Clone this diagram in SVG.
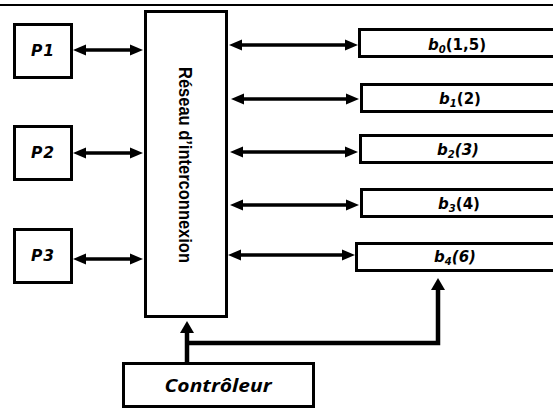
<svg xmlns="http://www.w3.org/2000/svg" width="553" height="410" viewBox="0 0 553 410">
<style>
.box{fill:#fff;stroke:#000;stroke-width:3}
.lbl{font-family:"DejaVu Sans",Verdana,sans-serif;font-weight:bold;font-style:italic;font-size:15.5px;fill:#000;text-anchor:middle}
.ctr{font-family:"Open Sans","DejaVu Sans",sans-serif;font-weight:bold;font-style:italic;font-size:18px;fill:#000;text-anchor:middle}
.bl{font-family:"DejaVu Sans",Verdana,sans-serif;font-weight:bold;font-size:15px;fill:#000;text-anchor:middle}
.it{font-style:italic}
.sub{font-size:10px;font-style:italic}
.net{font-family:"Liberation Sans Narrow","Liberation Sans",Arial,sans-serif;font-weight:bold;font-size:19px;fill:#000;text-anchor:middle}
.link{stroke:#000;stroke-width:3.5;fill:none;marker-start:url(#ah);marker-end:url(#ah)}
.ctl{stroke:#000;stroke-width:4.5;fill:none;marker-end:url(#big)}
</style>
<defs>
<marker id="ah" viewBox="0 -6 13 12" refX="3" refY="0" markerWidth="13" markerHeight="12" markerUnits="userSpaceOnUse" orient="auto-start-reverse">
<path d="M0,-5.5 L13,0 L0,5.5 z" fill="#000"/>
</marker>
<marker id="big" viewBox="0 -7.5 12 15" refX="2" refY="0" markerWidth="12" markerHeight="15" markerUnits="userSpaceOnUse" orient="auto">
<path d="M0,-7 L12,0 L0,7 z" fill="#000"/>
</marker>
</defs>
<line x1="0" y1="5" x2="553" y2="5" stroke="#000" stroke-width="2"/>
<g id="P1"><rect class="box" x="14.5" y="24.5" width="57" height="53"/><text class="lbl" x="43" y="56" letter-spacing="1">P1</text></g>
<g id="P2"><rect class="box" x="14.5" y="126.5" width="57" height="53"/><text class="lbl" x="43" y="158" letter-spacing="1">P2</text></g>
<g id="P3"><rect class="box" x="14.5" y="229.5" width="57" height="53"/><text class="lbl" x="43" y="261" letter-spacing="1">P3</text></g>
<g id="reseau"><rect class="box" x="145.5" y="11.5" width="81" height="305"/>
<text class="net" transform="translate(179,165) rotate(90)" x="0" y="0" textLength="196" lengthAdjust="spacingAndGlyphs">Réseau d’interconnexion</text></g>
<g id="b0"><rect class="box" x="359.5" y="29.5" width="200" height="27"/><text class="bl" x="457" y="50"><tspan class="it">b</tspan><tspan class="sub" dy="3">0</tspan><tspan dy="-3">(1,5)</tspan></text></g>
<g id="b1"><rect class="box" x="361.5" y="84.5" width="200" height="27"/><text class="bl" x="460" y="104"><tspan class="it">b</tspan><tspan class="sub" dy="3">1</tspan><tspan dy="-3">(2)</tspan></text></g>
<g id="b2"><rect class="box" x="360.5" y="135.5" width="200" height="27"/><text class="bl" x="458" y="155"><tspan class="it">b</tspan><tspan class="sub" dy="3">2</tspan><tspan class="it" dy="-3">(3)</tspan></text></g>
<g id="b3"><rect class="box" x="361.5" y="189.5" width="200" height="27"/><text class="bl" x="459" y="209"><tspan class="it">b</tspan><tspan class="sub" dy="3">3</tspan><tspan dy="-3">(4)</tspan></text></g>
<g id="b4"><rect class="box" x="356.5" y="243.5" width="200" height="27"/><text class="bl" x="455" y="262"><tspan class="it">b</tspan><tspan class="sub" dy="3">4</tspan><tspan class="it" dy="-3">(6)</tspan></text></g>
<g id="controleur"><rect class="box" x="123.5" y="363.5" width="190" height="43"/><text class="ctr" x="218" y="392" textLength="107" lengthAdjust="spacingAndGlyphs">Contrôleur</text></g>
<g id="connectors">
<line class="link" x1="83" y1="50" x2="133" y2="50"/>
<line class="link" x1="83" y1="153" x2="133" y2="153"/>
<line class="link" x1="83" y1="259" x2="133" y2="259"/>
<line class="link" x1="239" y1="45" x2="348" y2="45"/>
<line class="link" x1="241" y1="99" x2="349" y2="99"/>
<line class="link" x1="240" y1="152" x2="348" y2="152"/>
<line class="link" x1="240" y1="205" x2="349" y2="205"/>
<line class="link" x1="238" y1="255" x2="345" y2="255"/>
<line class="ctl" x1="187" y1="362" x2="187" y2="331"/>
<path class="ctl" d="M185,343 H438 V288"/>
</g>
</svg>
